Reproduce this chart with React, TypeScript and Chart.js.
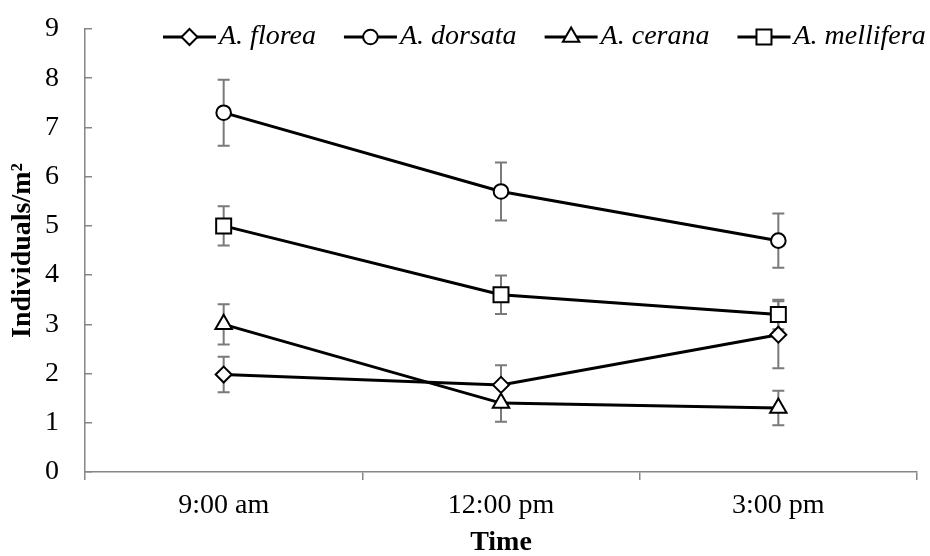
import { useEffect, useRef } from "react";
import { Chart, registerables } from "chart.js";
import { drawPoint } from "chart.js/helpers";

Chart.register(...registerables);

const categories = ["9:00 am", "12:00 pm", "3:00 pm"];
const seriesNames = ["A. florea", "A. dorsata", "A. cerana", "A. mellifera"];
const floreaValues = [1.98, 1.77, 2.79];
const floreaErrors = [0.36, 0.4, 0.68];
const dorsataValues = [7.3, 5.7, 4.7];
const dorsataErrors = [0.67, 0.59, 0.55];
const ceranaValues = [3.0, 1.4, 1.3];
const ceranaErrors = [0.41, 0.38, 0.35];
const melliferaValues = [5.0, 3.6, 3.2];
const melliferaErrors = [0.4, 0.39, 0.3];
const yMin = 0;
const yMax = 9;
const yStep = 1;

const FONT = "'Liberation Serif', 'Times New Roman', serif";

const errorBarPlugin = {
  id: "errorBars",
  beforeDatasetsDraw(chart: any) {
    const ctx = chart.ctx;
    const yScale = chart.scales.y;
    ctx.save();
    ctx.strokeStyle = "#7a7a7a";
    ctx.lineWidth = 2;
    chart.data.datasets.forEach((ds: any, i: number) => {
      const meta = chart.getDatasetMeta(i);
      meta.data.forEach((pt: any, j: number) => {
        const v = ds.data[j];
        const e = ds.errors[j];
        const yt = yScale.getPixelForValue(v + e);
        const yb = yScale.getPixelForValue(v - e);
        const x = pt.x;
        ctx.beginPath();
        ctx.moveTo(x, yt);
        ctx.lineTo(x, yb);
        ctx.moveTo(x - 6, yt);
        ctx.lineTo(x + 6, yt);
        ctx.moveTo(x - 6, yb);
        ctx.lineTo(x + 6, yb);
        ctx.stroke();
      });
    });
    ctx.restore();
  },
};

const legendPlugin = {
  id: "lineLegend",
  afterDraw(chart: any) {
    const ctx = chart.ctx;
    ctx.save();
    ctx.font = "italic 28px " + FONT;
    ctx.textBaseline = "alphabetic";
    ctx.textAlign = "left";
    let x = 163;
    const y = 37;
    chart.data.datasets.forEach((ds: any) => {
      ctx.strokeStyle = "#000";
      ctx.lineWidth = 3;
      ctx.beginPath();
      ctx.moveTo(x, y);
      ctx.lineTo(x + 53, y);
      ctx.stroke();
      ctx.fillStyle = "#fff";
      ctx.strokeStyle = "#000";
      ctx.lineWidth = 2;
      drawPoint(
        ctx,
        { pointStyle: ds.pointStyle, radius: ds.pointRadius, rotation: 0, borderWidth: 2 },
        x + 26.5,
        y
      );
      ctx.fillStyle = "#000";
      ctx.fillText(ds.label, x + 56, y + 7);
      const w = ctx.measureText(ds.label).width;
      x += 56 + w + 28;
    });
    ctx.restore();
  },
};

function makeDataset(label: string, data: number[], errors: number[], pointStyle: string, radius: number) {
  return {
    label,
    data,
    errors,
    pointStyle,
    pointRadius: radius,
    pointHoverRadius: radius,
    pointBackgroundColor: "#ffffff",
    pointBorderColor: "#000000",
    pointBorderWidth: 2,
    borderColor: "#000000",
    borderWidth: 3,
    backgroundColor: "#ffffff",
    tension: 0,
    fill: false,
  };
}

export default function App() {
  const canvasRef = useRef<HTMLCanvasElement | null>(null);

  useEffect(() => {
    if (!canvasRef.current) return;
    const chart = new Chart(canvasRef.current, {
      type: "line",
      data: {
        labels: categories,
        datasets: [
          makeDataset(seriesNames[0], floreaValues, floreaErrors, "rectRot", 8),
          makeDataset(seriesNames[1], dorsataValues, dorsataErrors, "circle", 7.3),
          makeDataset(seriesNames[2], ceranaValues, ceranaErrors, "triangle", 9.5),
          makeDataset(seriesNames[3], melliferaValues, melliferaErrors, "rect", 10.6),
        ] as any,
      },
      options: {
        responsive: false,
        animation: false,
        layout: { padding: { top: 29, right: 13, left: 0, bottom: 0 } },
        plugins: {
          legend: { display: false },
          tooltip: { enabled: false },
        },
        scales: {
          x: {
            type: "category",
            offset: true,
            grid: {
              offset: true,
              drawOnChartArea: false,
              drawTicks: true,
              tickLength: 8,
              color: "#868686",
              lineWidth: 1.5,
            },
            border: { color: "#868686", width: 1.5 },
            ticks: {
              color: "#000",
              font: { family: FONT, size: 28 },
              padding: 9,
              maxRotation: 0,
            },
            title: {
              display: true,
              text: "Time",
              color: "#000",
              font: { family: FONT, size: 28, weight: "bold", lineHeight: 0.8 },
              padding: { top: 0, bottom: 2 },
            },
            afterFit(scale: any) {
              scale.height = 84;
              scale.paddingLeft = 0;
              scale.paddingRight = 0;
            },
          },
          y: {
            min: yMin,
            max: yMax,
            ticks: {
              stepSize: yStep,
              color: "#000",
              font: { family: FONT, size: 28 },
              padding: 33,
            },
            grid: {
              drawOnChartArea: false,
              drawTicks: true,
              tickLength: -7,
              color: "#868686",
              lineWidth: 1.5,
            },
            border: { color: "#868686", width: 1.5 },
            title: {
              display: true,
              text: "Individuals/m²",
              color: "#000",
              font: { family: FONT, size: 28, weight: "bold" },
              padding: { top: 6, bottom: 0 },
            },
            afterFit(scale: any) {
              scale.width = 85;
              scale.paddingTop = 0;
              scale.paddingBottom = 0;
            },
          },
        },
      } as any,
      plugins: [errorBarPlugin, legendPlugin],
    });
    return () => chart.destroy();
  }, []);

  return (
    <div style={{ position: "absolute", left: 0, top: 0, width: 930, height: 556, background: "#fff" }}>
      <canvas ref={canvasRef} width={930} height={556} />
    </div>
  );
}
